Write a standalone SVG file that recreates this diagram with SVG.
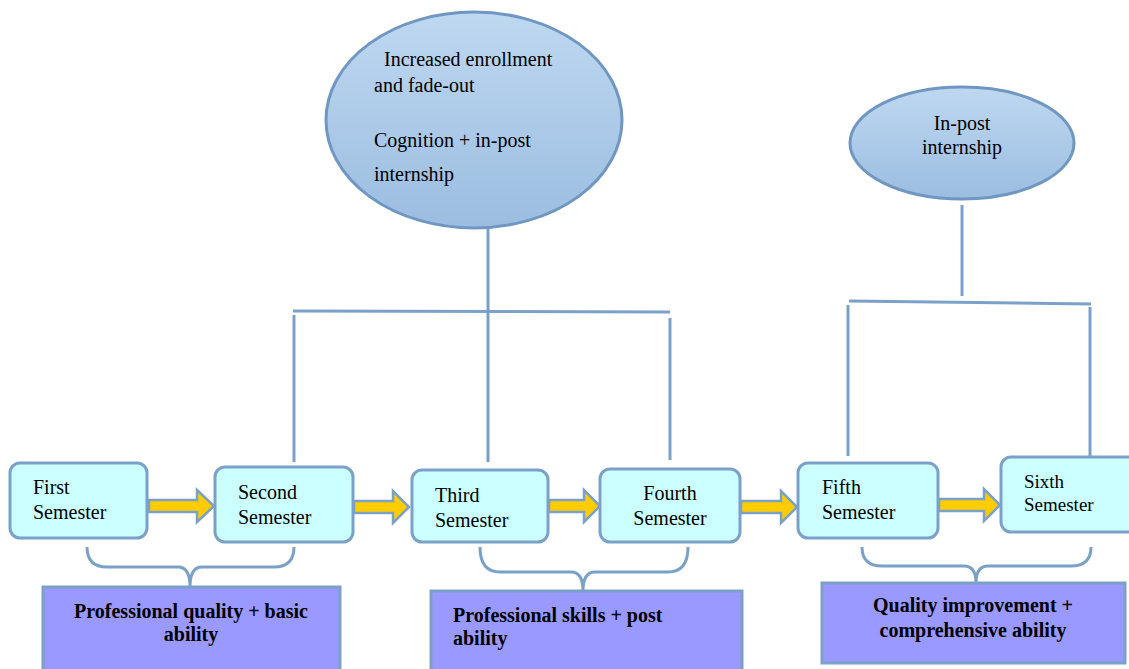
<svg xmlns="http://www.w3.org/2000/svg" width="1129" height="669" viewBox="0 0 1129 669">
<defs>
<linearGradient id="eg" x1="0" y1="0" x2="0" y2="1">
<stop offset="0" stop-color="#BFD8F1"/>
<stop offset="1" stop-color="#9BBDE0"/>
</linearGradient>
</defs>
<style>
.ell{fill:url(#eg);stroke:#6F97C2;stroke-width:3}
.sem{fill:#CCFFFF;stroke:#7BA1C9;stroke-width:3}
.res{fill:#9999FF;stroke:#7BA1C9;stroke-width:3}
.ln{fill:none;stroke:#7BA1C9;stroke-width:3}
.arr{fill:#FFCC00;stroke:#7BA1C9;stroke-width:2.5;stroke-linejoin:miter}
.t{font-family:"Liberation Serif",serif;font-size:20px;fill:#000}
.b{font-family:"Liberation Serif",serif;font-size:20px;font-weight:bold;fill:#000}
</style>
<rect width="1129" height="669" fill="#fff"/>
<g id="connectors">
<line class="ln" x1="488" y1="228" x2="488" y2="462"/>
<line class="ln" x1="293" y1="311" x2="670" y2="312"/>
<line class="ln" x1="294" y1="315" x2="294" y2="462"/>
<line class="ln" x1="670" y1="318" x2="670" y2="460"/>
<line class="ln" x1="962" y1="205" x2="962" y2="296"/>
<line class="ln" x1="849" y1="301" x2="1091" y2="304"/>
<line class="ln" x1="848" y1="305" x2="848" y2="456"/>
<line class="ln" x1="1090" y1="307" x2="1090" y2="456"/>
<path class="arr" d="M149,500 H197 V490 L214,506 L197,522 V512 H149 Z"/>
<path class="arr" d="M354,501 H393 V491 L409,507 L393,523 V513 H354 Z"/>
<path class="arr" d="M549,500 H584 V490 L600,506 L584,522 V512 H549 Z"/>
<path class="arr" d="M741,501 H781 V491 L797,507 L781,523 V513 H741 Z"/>
<path class="arr" d="M939,499 H984 V489 L1000,505 L984,521 V511 H939 Z"/>
<path class="ln" d="M87,547 Q87,567 107,567 H178 Q190,567 190,587 Q190,567 202,567 H274 Q294,567 294,547"/>
<path class="ln" d="M480,547 Q480,572 500,572 H571 Q583,572 583,591 Q583,572 595,572 H668 Q688,572 688,547"/>
<path class="ln" d="M862,547 Q862,566 882,566 H964 Q976,566 976,583 Q976,566 988,566 H1071 Q1091,566 1091,547"/>
</g>
<g id="ellipse-main">
<ellipse class="ell" cx="474" cy="120" rx="148" ry="108"/>
<text class="t" x="384" y="66">Increased enrollment</text>
<text class="t" x="374" y="92">and fade-out</text>
<text class="t" x="374" y="147">Cognition + in-post</text>
<text class="t" x="374" y="181">internship</text>
</g>
<g id="ellipse-internship">
<ellipse class="ell" cx="962" cy="143" rx="112" ry="56"/>
<text class="t" x="962" y="130" text-anchor="middle">In-post</text>
<text class="t" x="962" y="154" text-anchor="middle">internship</text>
</g>
<g id="sem1">
<rect class="sem" x="10" y="463" width="137" height="75" rx="10"/>
<text class="t" x="33" y="494">First</text>
<text class="t" x="33" y="519">Semester</text>
</g>
<g id="sem2">
<rect class="sem" x="215" y="467" width="138" height="75" rx="10"/>
<text class="t" x="238" y="499">Second</text>
<text class="t" x="238" y="524">Semester</text>
</g>
<g id="sem3">
<rect class="sem" x="412" y="470" width="136" height="72" rx="10"/>
<text class="t" x="435" y="502">Third</text>
<text class="t" x="435" y="527">Semester</text>
</g>
<g id="sem4">
<rect class="sem" x="600" y="469" width="140" height="73" rx="10"/>
<text class="t" x="670" y="500" text-anchor="middle">Fourth</text>
<text class="t" x="670" y="525" text-anchor="middle">Semester</text>
</g>
<g id="sem5">
<rect class="sem" x="798" y="463" width="140" height="75" rx="10"/>
<text class="t" x="822" y="494">Fifth</text>
<text class="t" x="822" y="519">Semester</text>
</g>
<g id="sem6">
<rect class="sem" x="1001" y="457" width="140" height="75" rx="10"/>
<text class="t" x="1024" y="488" style="font-size:19px">Sixth</text>
<text class="t" x="1024" y="511" style="font-size:19px">Semester</text>
</g>
<g id="res1">
<rect class="res" x="43" y="587" width="297" height="90"/>
<text class="b" x="191" y="618" text-anchor="middle">Professional quality + basic</text>
<text class="b" x="191" y="641" text-anchor="middle">ability</text>
</g>
<g id="res2">
<rect class="res" x="431" y="591" width="311" height="90"/>
<text class="b" x="453" y="622">Professional skills + post</text>
<text class="b" x="453" y="645">ability</text>
</g>
<g id="res3">
<rect class="res" x="822" y="583" width="303" height="80"/>
<text class="b" x="973" y="612" text-anchor="middle">Quality improvement +</text>
<text class="b" x="973" y="637" text-anchor="middle">comprehensive ability</text>
</g>
</svg>
